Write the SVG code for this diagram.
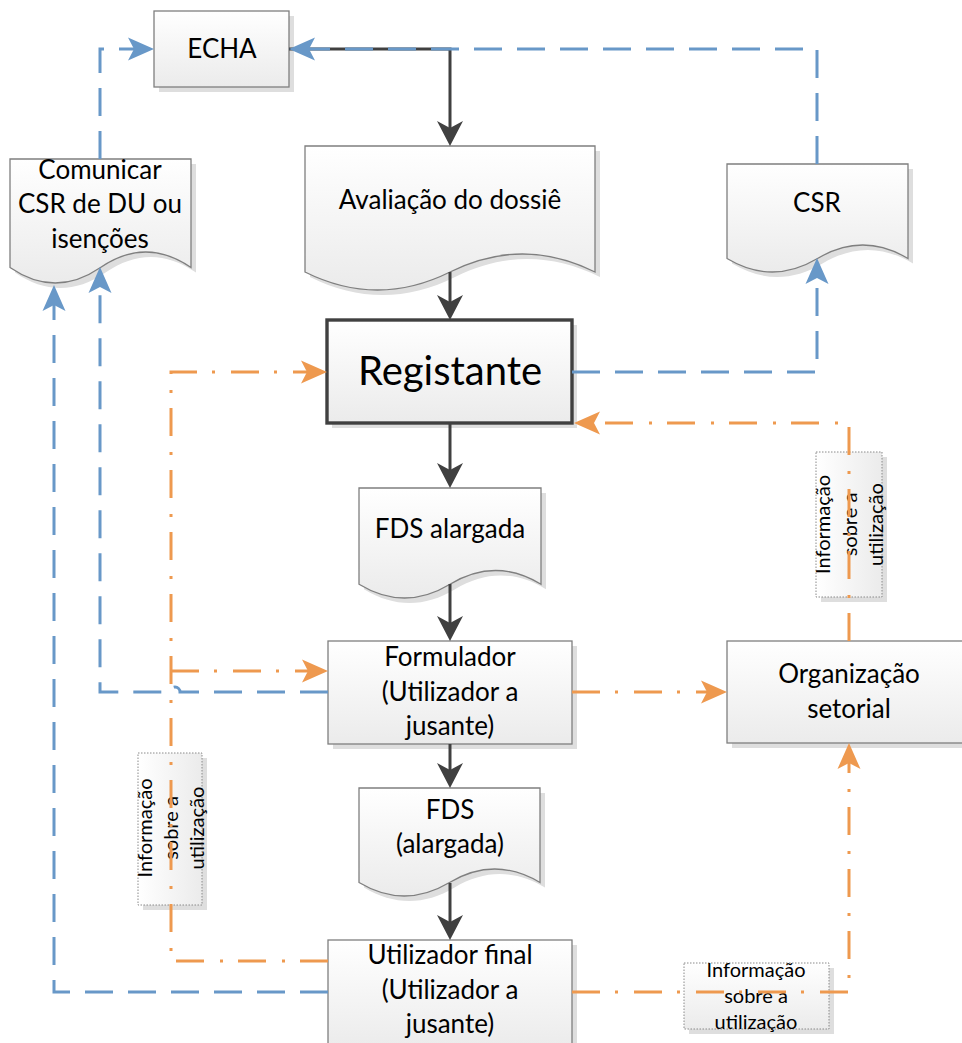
<svg xmlns="http://www.w3.org/2000/svg" width="962" height="1043" viewBox="0 0 962 1043">
<style>
.sh{fill:#dedede}
.box{fill:url(#g);stroke:#7f7f7f;stroke-width:1.3}
.reg{fill:url(#g);stroke:#404040;stroke-width:3.4}
.lb{fill:url(#gh);stroke:#8a8a8a;stroke-width:1;stroke-dasharray:1.5 1.5}
.lbb{fill:url(#g);stroke:#8a8a8a;stroke-width:1;stroke-dasharray:1.5 1.5}
.t{font-family:Lato,"Liberation Sans",sans-serif;font-size:26px;fill:#000;text-anchor:middle}
.big{font-size:40px}
.sm{font-size:20px}
.dark{stroke:#404040;stroke-width:3;fill:none}
.blue{stroke:#6898c8;stroke-width:3;fill:none;stroke-dasharray:28 15}
.orange{stroke:#ee994f;stroke-width:3;fill:none;stroke-dasharray:28 15 3 16}
</style>
<defs>
<linearGradient id="g" x1="0" y1="0" x2="0" y2="1"><stop offset="0" stop-color="#ffffff"/><stop offset="1" stop-color="#ebebeb"/></linearGradient>
<linearGradient id="gh" x1="0" y1="0" x2="1" y2="0"><stop offset="0" stop-color="#ffffff"/><stop offset="1" stop-color="#ebebeb"/></linearGradient>
<marker id="ad" viewBox="-28 -14 30 28" markerWidth="30" markerHeight="28" refX="-16" refY="0" markerUnits="userSpaceOnUse" orient="auto"><path d="M0,0 L-25,-13 L-18,0 L-25,13 Z" fill="#404040"/></marker>
<marker id="ab" viewBox="-28 -14 30 28" markerWidth="30" markerHeight="28" refX="-18" refY="0" markerUnits="userSpaceOnUse" orient="auto"><path d="M0,0 L-26,-11.5 L-20,0 L-26,11.5 Z" fill="#6898c8"/></marker>
<marker id="ao" viewBox="-28 -14 30 28" markerWidth="30" markerHeight="28" refX="-18" refY="0" markerUnits="userSpaceOnUse" orient="auto"><path d="M0,0 L-26,-11.5 L-20,0 L-26,11.5 Z" fill="#ee994f"/></marker>
</defs>

<g id="echa">
<rect class="sh" x="159" y="16" width="135" height="76"/>
<rect class="box" x="154" y="11" width="135" height="76"/>
<text class="t" x="222" y="58">ECHA</text>
</g>

<g id="comunicar">
<path class="sh" transform="translate(5,5)" d="M10,159 H191 V267.5 C160.8,246.8 130.7,246.8 100.5,267.5 C70.3,288.2 40.2,288.2 10,267.5 Z"/>
<path class="box" d="M10,159 H191 V267.5 C160.8,246.8 130.7,246.8 100.5,267.5 C70.3,288.2 40.2,288.2 10,267.5 Z"/>
<text class="t" x="100" y="179">Comunicar</text>
<text class="t" x="100" y="213">CSR de DU ou</text>
<text class="t" x="100" y="248">isenções</text>
</g>

<g id="avaliacao">
<path class="sh" transform="translate(5,5)" d="M305,146 H595 V272 C546.7,248 498.3,248 450,272 C401.7,296 353.3,296 305,272 Z"/>
<path class="box" d="M305,146 H595 V272 C546.7,248 498.3,248 450,272 C401.7,296 353.3,296 305,272 Z"/>
<text class="t" x="450" y="209">Avaliação do dossiê</text>
</g>

<g id="csr">
<path class="sh" transform="translate(5,5)" d="M727,164 H908 V258.5 C877.8,240.5 847.7,240.5 817.5,258.5 C787.3,276.5 757.2,276.5 727,258.5 Z"/>
<path class="box" d="M727,164 H908 V258.5 C877.8,240.5 847.7,240.5 817.5,258.5 C787.3,276.5 757.2,276.5 727,258.5 Z"/>
<text class="t" x="817" y="212">CSR</text>
</g>

<g id="registante">
<rect class="sh" x="332" y="325" width="245" height="103"/>
<rect class="reg" x="327" y="320" width="245" height="103"/>
<text class="t big" x="450" y="385">Registante</text>
</g>

<g id="fds-alargada">
<path class="sh" transform="translate(5,5)" d="M359,488 H541 V584.25 C510.7,565.9 480.3,565.9 450,584.25 C419.7,602.6 389.3,602.6 359,584.25 Z"/>
<path class="box" d="M359,488 H541 V584.25 C510.7,565.9 480.3,565.9 450,584.25 C419.7,602.6 389.3,602.6 359,584.25 Z"/>
<text class="t" x="450" y="538">FDS alargada</text>
</g>

<g id="formulador">
<rect class="sh" x="333" y="646" width="244" height="103"/>
<rect class="box" x="328" y="641" width="244" height="103"/>
<text class="t" x="450" y="666">Formulador</text>
<text class="t" x="450" y="700.5">(Utilizador a</text>
<text class="t" x="450" y="735">jusante)</text>
</g>

<g id="organizacao">
<rect class="sh" x="732" y="646" width="244" height="102"/>
<rect class="box" x="727" y="641" width="244" height="102"/>
<text class="t" x="849" y="683">Organização</text>
<text class="t" x="849" y="718">setorial</text>
</g>

<g id="fds">
<path class="sh" transform="translate(5,5)" d="M359,788 H540 V882.5 C509.8,864.5 479.7,864.5 449.5,882.5 C419.3,900.5 389.2,900.5 359,882.5 Z"/>
<path class="box" d="M359,788 H540 V882.5 C509.8,864.5 479.7,864.5 449.5,882.5 C419.3,900.5 389.2,900.5 359,882.5 Z"/>
<text class="t" x="450" y="819">FDS</text>
<text class="t" x="450" y="853">(alargada)</text>
</g>

<g id="utilizador-final">
<rect class="sh" x="333" y="945" width="244" height="110"/>
<rect class="box" x="328" y="940" width="244" height="110"/>
<text class="t" x="450" y="964">Utilizador final</text>
<text class="t" x="450" y="998.5">(Utilizador a</text>
<text class="t" x="450" y="1033">jusante)</text>
</g>

<g id="label-left">
<rect class="sh" x="143" y="758" width="64" height="152"/>
<rect class="lb" x="138" y="753" width="64" height="152"/>
<g transform="translate(170,828) rotate(-90)">
<text class="t sm" x="0" y="-18">Informação</text>
<text class="t sm" x="0" y="8">sobre a</text>
<text class="t sm" x="0" y="34">utilização</text>
</g>
</g>

<g id="label-right">
<rect class="sh" x="821" y="457" width="66" height="145"/>
<rect class="lb" x="816" y="452" width="66" height="145"/>
<g transform="translate(849,524.5) rotate(-90)">
<text class="t sm" x="0" y="-19">Informação</text>
<text class="t sm" x="0" y="8">sobre a</text>
<text class="t sm" x="0" y="34">utilização</text>
</g>
</g>

<g id="label-bottom">
<rect class="sh" x="689" y="968" width="145" height="66"/>
<rect class="lbb" x="684" y="963" width="145" height="66"/>
<text class="t sm" x="756" y="977">Informação</text>
<text class="t sm" x="756" y="1003">sobre a</text>
<text class="t sm" x="756" y="1029">utilização</text>
</g>

<g id="connectors">
<path class="dark" d="M289,49 H450 V130" marker-end="url(#ad)"/>
<path class="dark" d="M450,272 V304" marker-end="url(#ad)"/>
<path class="dark" d="M450,423 V472" marker-end="url(#ad)"/>
<path class="dark" d="M450,584 V625" marker-end="url(#ad)"/>
<path class="dark" d="M450,744 V772" marker-end="url(#ad)"/>
<path class="dark" d="M450,883 V924" marker-end="url(#ad)"/>

<path class="blue" d="M100,159 V49 H136" marker-end="url(#ab)"/>
<path class="blue" d="M817,164 V49 H307" marker-end="url(#ab)"/>
<path class="blue" d="M572,372 H817 V276" marker-end="url(#ab)"/>
<path class="blue" d="M328,692 H180 A5,5 0 0 0 170,692 H100 V285" marker-end="url(#ab)"/>
<path class="blue" d="M328,992 H54 V303" marker-end="url(#ab)"/>

<path class="orange" d="M328,961 H171 V372 H309" marker-end="url(#ao)"/>
<path class="orange" d="M171,671 H310" marker-end="url(#ao)"/>
<path class="orange" d="M572,692 H709" marker-end="url(#ao)"/>
<path class="orange" d="M849,641 V423 H592" marker-end="url(#ao)"/>
<path class="orange" d="M572,992 H849 V761" marker-end="url(#ao)"/>
</g>
</svg>
